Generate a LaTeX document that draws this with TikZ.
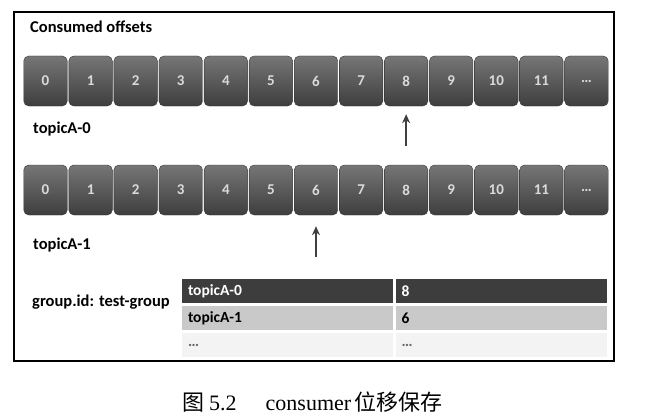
\documentclass[tikz,border=0pt]{standalone}
\usepackage{fontspec}
\setmainfont{Carlito}
\newfontfamily\capfont{Liberation Serif}
\newfontfamily\cjk{Noto Sans CJK SC}
\usetikzlibrary{arrows.meta}
\definecolor{boxtop}{HTML}{767676}
\definecolor{boxbot}{HTML}{3E3E3E}
\definecolor{celltext}{HTML}{DADADA}
\definecolor{darkrow}{HTML}{3D3D3D}
\definecolor{lightrow}{HTML}{C9C9C9}
\definecolor{paler}{HTML}{F3F3F3}
\definecolor{arrowc}{HTML}{404040}
\begin{document}
\begin{tikzpicture}[x=1pt,y=-1pt,
  cell/.style={rounded corners=5pt, minimum width=43.5pt, minimum height=50pt,
    top color=boxtop, bottom color=boxbot, draw=boxbot!85!black, line width=0.4pt,
    text=celltext, font=\bfseries\fontsize{15}{15}\selectfont, inner sep=0pt},
  lbl/.style={anchor=west, inner sep=0pt, font=\bfseries\fontsize{16.5}{16.5}\selectfont},
  arr/.style={draw=arrowc, line width=1.8pt, -{Stealth[length=9pt,width=8pt]}},
  tcell/.style={rectangle, minimum height=24pt, inner xsep=6pt, inner ysep=0pt,
    text width=199pt, align=left, font=\bfseries\fontsize{15.5}{15.5}\selectfont}
]
\useasboundingbox[fill=white] (0,0) rectangle (651,420);
% frame
\draw[line width=1.1pt] (14,12) rectangle (614,361);
\node[lbl] (title) at (30,27) {Consumed offsets};
% row 1
\foreach \i in {0,1,2,3,4,5,6,7,8,9,10,11}
  \node[cell] (a\i) at ({45.5+45.08*\i},81) {\i};
\node[cell] (a12) at ({45.5+45.08*12},81) {\ldots};
\node[lbl] (t0) at (33,129) {topicA-0};
\coordinate (p0) at ([yshift=-40pt]a8.south);
\draw[arr] (p0) -- ([yshift=-8pt]a8.south);
% row 2
\foreach \i in {0,1,2,3,4,5,6,7,8,9,10,11}
  \node[cell] (b\i) at ({45.5+45.08*\i},190) {\i};
\node[cell] (b12) at ({45.5+45.08*12},190) {\ldots};
\node[lbl] (t1) at (33,245) {topicA-1};
\coordinate (p1) at ([yshift=-42pt]b6.south);
\draw[arr] (p1) -- ([yshift=-11pt]b6.south);
% group table
\node[lbl] (grp) at (32,302) {group.id: test-group};
\node[tcell, fill=darkrow, text=white] (r1c1) at (287.5,291) {topicA-0};
\node[tcell, fill=darkrow, text=white] (r1c2) at (501,291) {8};
\node[tcell, fill=lightrow, text=black] (r2c1) at (287.5,318) {topicA-1};
\node[tcell, fill=lightrow, text=black] (r2c2) at (501,318) {6};
\node[tcell, fill=paler, text=black!60] (r3c1) at (287.5,345) {\ldots};
\node[tcell, fill=paler, text=black!60] (r3c2) at (501,345) {\ldots};
% caption
\node[anchor=west, inner sep=0pt, font=\capfont\fontsize{22}{22}\selectfont] (cap) at (182,402)
  {{\cjk 图}\hspace{5pt}5.2\hspace{29pt}consumer\hspace{3pt}{\cjk 位移保存}};
\end{tikzpicture}
\end{document}
